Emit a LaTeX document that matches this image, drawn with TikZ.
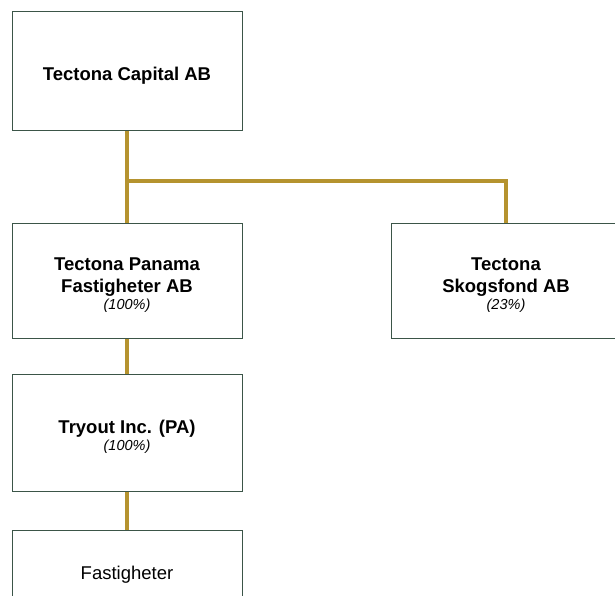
\documentclass[tikz,border=0pt]{standalone}
\usepackage{fontspec}
\setmainfont{Liberation Sans}
\usetikzlibrary{positioning}
\definecolor{boxline}{HTML}{3B5548}
\definecolor{gold}{HTML}{B5932F}
\newcommand{\lead}{\rule{0pt}{21pt}}
\newcommand{\stake}[1]{\\[-5pt]{\fontsize{14.5}{17}\selectfont\mdseries\itshape #1}}
\tikzset{
  org/.style={draw=boxline, line width=1pt, minimum width=230pt, align=center,
              inner sep=0pt, font=\fontsize{18.5}{22}\selectfont\bfseries},
  plain/.style={org, font=\fontsize{18.5}{22}\selectfont},
  link/.style={draw=gold, line width=3.2pt},
}
\begin{document}
\begin{tikzpicture}[x=1pt, y=-1pt]
  \useasboundingbox (0,0) rectangle (615,596);
  \clip (0,0) rectangle (615,596);
  % parent
  \node[org, minimum height=119pt] (capital) at (127,71.5) {\lead Tectona Capital AB};
  % subsidiaries
  \node[org, minimum height=115pt] (panama) at (127,280.5)
    {\lead Tectona Panama\\Fastigheter AB\stake{(100\%)}};
  \node[org, minimum height=115pt] (skog) at (506,280.5)
    {\lead Tectona\\Skogsfond AB\stake{(23\%)}};
  \node[org, minimum height=117pt] (tryout) at (127,432.5)
    {\lead Tryout Inc. (PA)\stake{(100\%)}};
  \node[plain, minimum height=82pt] (fast) at (127,571) {\lead Fastigheter};
  \coordinate (split) at (127,181);
  % ownership links
  \draw[link] (capital.south) -- (panama.north);
  \draw[link] (split) -| (skog.north);
  \draw[link] (panama.south) -- (tryout.north);
  \draw[link] (tryout.south) -- (fast.north);
\end{tikzpicture}
\end{document}
